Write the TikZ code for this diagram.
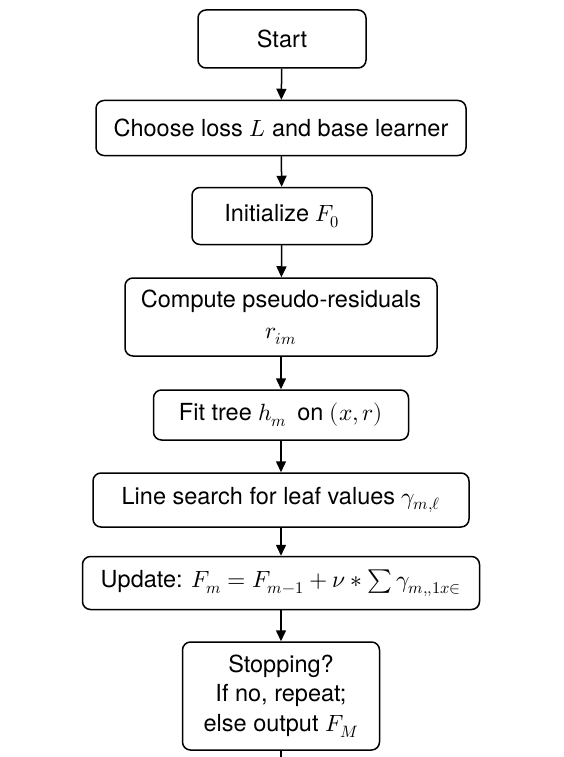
\documentclass[tikz,border=0pt]{standalone}
\usepackage{fontspec}
\usepackage{unicode-math}
\setmainfont{TeX Gyre Heros}
\setmathfont{Latin Modern Math}
\usetikzlibrary{arrows.meta}
\begin{document}
\begin{tikzpicture}[x=1pt,y=-1pt,
  box/.style={draw,line width=1.5pt,rounded corners=8pt,align=center,font=\fontsize{23.5}{29.5}\selectfont,inner sep=0pt},
  conn/.style={line width=1.5pt,-{Triangle[length=11pt,width=10pt]}}]
\useasboundingbox (0,0) rectangle (563,757);
\node[box,minimum width=168,minimum height=58] (start) at (282,39) {Start};
\node[box,minimum width=370,minimum height=55] (loss) at (281,128) {Choose loss $L$ and base learner};
\node[box,minimum width=180,minimum height=57] (init) at (282,216) {Initialize $F_0$};
\node[box,minimum width=312,minimum height=78,font=\fontsize{23.5}{31}\selectfont] (res) at (281,317) {Compute pseudo-residuals\\$r_{im}$};
\node[box,minimum width=255,minimum height=50] (fit) at (281,415) {Fit tree $h_m$\, on $(x,r)$};
\node[box,minimum width=376,minimum height=54] (line) at (281,500) {Line search for leaf values $\gamma_{m,\ell}$};
\node[box,minimum width=397,minimum height=53] (upd) at (281,583) {Update: $F_m = F_{m-1} + \nu * \sum \gamma_{m,,1x\in}$};
\node[box,minimum width=197,minimum height=108] (stop) at (281,696) {Stopping?\\If no, repeat;\\else output $F_M$};
\coordinate (end) at (281,760);
\draw[conn] (start) -- (loss);
\draw[conn] (loss) -- (init);
\draw[conn] (init) -- (res);
\draw[conn] (res) -- (fit);
\draw[conn] (fit) -- (line);
\draw[conn] (line) -- (upd);
\draw[conn] (upd) -- (stop);
\draw[line width=1.5pt] (stop) -- (end);
\end{tikzpicture}
\end{document}
